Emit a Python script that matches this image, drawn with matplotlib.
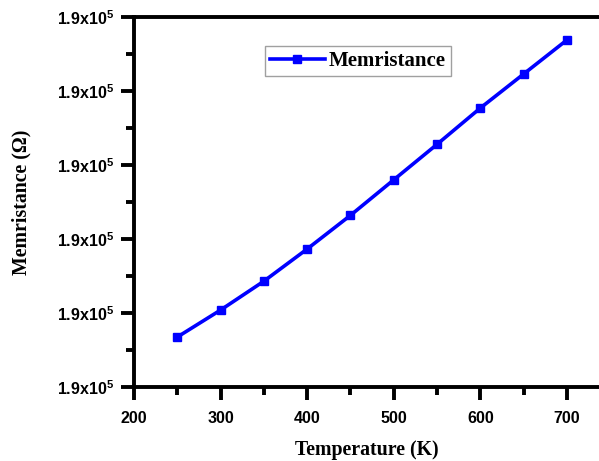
import matplotlib
matplotlib.use("Agg")
import matplotlib.pyplot as plt
from matplotlib.ticker import FuncFormatter, MultipleLocator

# Данные: температура (K) и мемристанс (Ом), значения очень близки к 1.9e5
temperature = [250, 300, 350, 400, 450, 500, 550, 600, 650, 700]
memristance = [189991.35, 189992.08, 189992.86, 189993.73, 189994.64,
               189995.60, 189996.56, 189997.54, 189998.46, 189999.38]
y_ticks = [189990, 189992, 189994, 189996, 189998, 190000]

plt.rcParams['mathtext.fontset'] = 'custom'
plt.rcParams['mathtext.rm'] = 'Liberation Sans:bold'
plt.rcParams['mathtext.bf'] = 'Liberation Sans:bold'

fig = plt.figure(figsize=(5.99, 4.61), dpi=100)
ax = fig.add_axes([134 / 599, 1 - 387 / 461, 1 - 134 / 599, 370 / 461])

ax.plot(temperature, memristance, color='#0000ff', lw=2.6, marker='s',
        markersize=5.5, label='Memristance')

ax.set_xlim(200, 737)
ax.set_ylim(y_ticks[0], y_ticks[-1])
ax.set_yticks(y_ticks)
ax.xaxis.set_major_locator(MultipleLocator(100))
ax.xaxis.set_minor_locator(MultipleLocator(50))
ax.yaxis.set_minor_locator(MultipleLocator(1))
ax.yaxis.set_major_formatter(FuncFormatter(lambda v, p: r'1.9x10$^{5}$'))

for s in ax.spines.values():
    s.set_linewidth(2.8)
ax.spines['right'].set_visible(False)
ax.tick_params(which='major', direction='out', length=9.5, width=2.8,
               labelsize=11.5)
ax.tick_params(which='minor', direction='out', length=6, width=2.8)
ax.tick_params(axis='x', which='major', pad=8)
ax.tick_params(axis='y', which='major', pad=5)
for lab in ax.get_xticklabels() + ax.get_yticklabels():
    lab.set_fontfamily('Liberation Sans')
    lab.set_fontweight('bold')

ax.set_xlabel('Temperature (K)', fontfamily='Liberation Serif',
              fontweight='bold', fontsize=14.3, labelpad=10)
ax.set_ylabel('Memristance (Ω)', fontfamily='Liberation Serif',
              fontweight='bold', fontsize=14.3, labelpad=18)

leg = ax.legend(loc='center', bbox_to_anchor=(358 / 599, 1 - 61 / 461),
                bbox_transform=fig.transFigure, fancybox=False,
                prop={'family': 'Liberation Serif', 'weight': 'bold', 'size': 15},
                handlelength=2.6, borderpad=0.25, handletextpad=0.2,
                borderaxespad=0)
leg.get_frame().set_edgecolor('#888888')
leg.get_frame().set_linewidth(1.0)

fig.savefig('out.png', dpi=100)
